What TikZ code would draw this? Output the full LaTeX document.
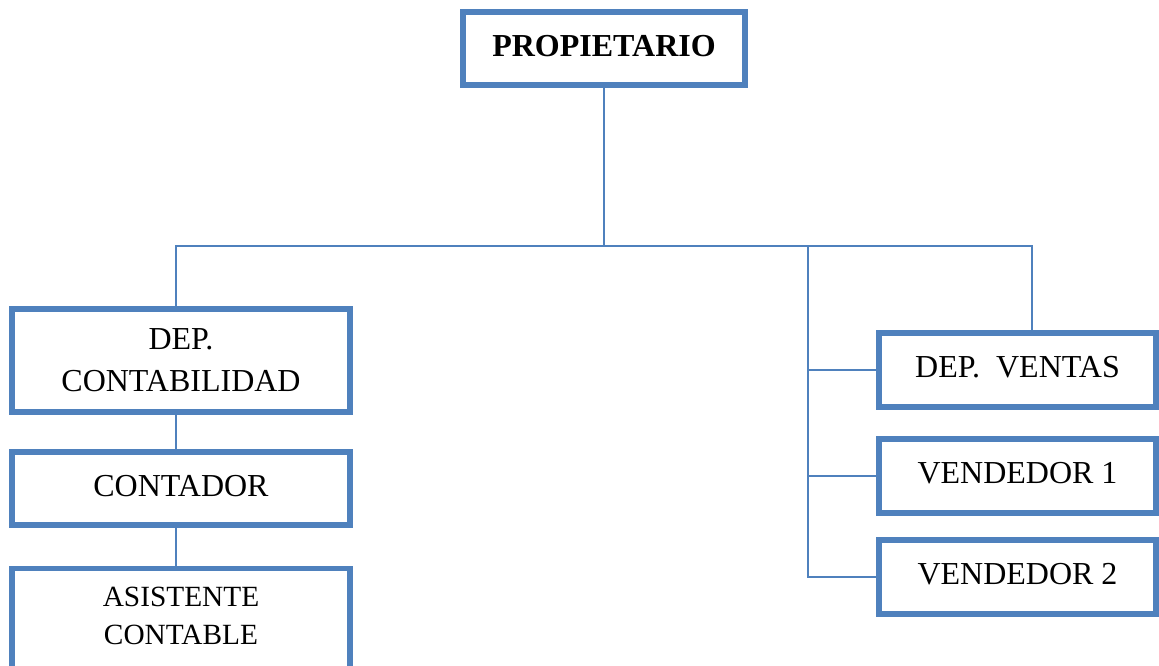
\documentclass[tikz,border=0pt]{standalone}
\usepackage{fontspec}
\setmainfont{Liberation Serif}
\definecolor{boxblue}{RGB}{79,129,189}

\begin{document}
\begin{tikzpicture}[x=0.75pt, y=-0.75pt, font=\fontsize{24}{31.5}\selectfont, dept/.style={draw=boxblue, line width=4pt, inner sep=0pt, align=center, minimum width=253.5pt, minimum height=54.75pt}, sales/.style={dept, minimum width=207.75pt, minimum height=55.5pt}, oneline/.style={text depth=0.45em}, link/.style={draw=boxblue, line width=1.3pt}]
\useasboundingbox (0,0) rectangle (1159,666);
\node[dept, oneline, minimum width=211.5pt, font=\fontsize{24}{28}\selectfont\bfseries] (prop) at (604,48.5) {PROPIETARIO};
\node[dept, minimum height=77.25pt] (contab) at (181,360.5) {DEP.\\CONTABILIDAD};
\node[dept, oneline] (contador) at (181,488.5) {CONTADOR};
\node[dept, anchor=north, minimum height=97.5pt, font=\fontsize{22}{28.5}\selectfont, text height=57pt, text depth=40.5pt] (asist) at (181,566) {ASISTENTE\\CONTABLE};
\node[sales, oneline] (ventas) at (1017.5,370) {DEP.~~VENTAS};
\node[sales, oneline] (vend1) at (1017.5,476) {VENDEDOR 1};
\node[sales, oneline] (vend2) at (1017.5,577) {VENDEDOR 2};
\coordinate (busl) at (176,246);\coordinate (busr) at (1032,246);\coordinate (tap) at (808,246);
\draw[link] (prop.south) -- (prop.south |- busr);
\draw[link] (contab.north -| busl) -- (busl) -- (busr) -- (busr |- ventas.north);
\draw[link] (contab.south -| busl) -- (contador.north -| busl);\draw[link] (contador.south -| busl) -- (asist.north -| busl);
\draw[link] (tap) |- (vend2.west);\draw[link] (tap |- ventas.west) -- (ventas.west);\draw[link] (tap |- vend1.west) -- (vend1.west);
\end{tikzpicture}
\end{document}
